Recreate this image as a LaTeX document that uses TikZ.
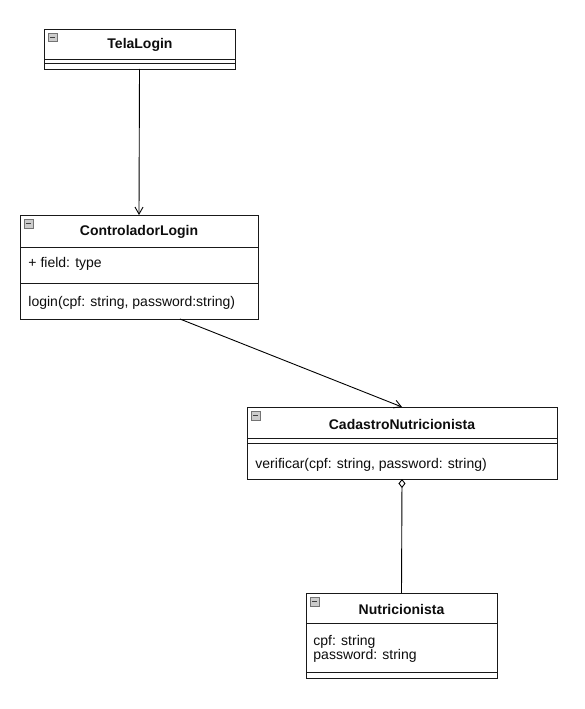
\documentclass[tikz,border=0pt]{standalone}
\usepackage{fontspec}
\setmainfont{Liberation Sans}
\usetikzlibrary{arrows.meta,calc}
\begin{document}
\begin{tikzpicture}[x=1pt,y=-1pt,
  line width=0.9pt,
  classbox/.style={draw=black!90, fill=white, rectangle, anchor=north west, inner sep=0pt, outer sep=0pt},
  sep/.style={draw=black!90, line width=0.9pt},
  title/.style={font=\fontsize{14}{16}\selectfont\bfseries, text=black!95, inner sep=0pt},
  member/.style={font=\fontsize{14}{16}\selectfont, text=black!95, anchor=west, inner sep=0pt, align=left},
  collapse/.style={draw=black!55, fill=black!20, line width=0.6pt, rectangle, minimum size=8.5pt, inner sep=0pt, anchor=north west},
  assoc/.style={draw=black, line width=0.9pt, -{Straight Barb[length=7pt,width=8pt]}},
  aggr/.style={draw=black, line width=0.9pt, {Diamond[open,length=9pt,width=7pt]}-}]
\useasboundingbox (0,0) rectangle (585,709);
\fill[white] (0,0) rectangle (585,709);

% TelaLogin
\node[classbox, minimum width=191pt, minimum height=40pt] (tela) at (44,29) {};
\draw[sep] (44,59) -- (235,59);
\draw[sep] (44,63.5) -- (235,63.5);
\node[collapse] (telaIcon) at (48,33) {};
\draw[line width=0.7pt, black!75] (49.8,37.25) -- (54.7,37.25);
\node[title] (telaTitle) at (140,45) {TelaLogin};

% ControladorLogin
\node[classbox, minimum width=238pt, minimum height=104pt] (ctrl) at (20,215) {};
\draw[sep] (20,247) -- (258,247);
\draw[sep] (20,283) -- (258,283);
\node[collapse] (ctrlIcon) at (24,219) {};
\draw[line width=0.7pt, black!75] (25.8,223.25) -- (30.7,223.25);
\node[title] (ctrlTitle) at (139,232) {ControladorLogin};
\node[member] (ctrlAttr) at (28,264) {+ field: type};
\node[member] (ctrlOp) at (28,303) {login(cpf: string, password:string)};

% CadastroNutricionista
\node[classbox, minimum width=310pt, minimum height=72pt] (cad) at (247,407) {};
\draw[sep] (247,438.5) -- (557,438.5);
\draw[sep] (247,443) -- (557,443);
\node[collapse] (cadIcon) at (251,411) {};
\draw[line width=0.7pt, black!75] (252.8,415.25) -- (257.7,415.25);
\node[title] (cadTitle) at (402,424) {CadastroNutricionista};
\node[member] (cadOp) at (255,465) {verificar(cpf: string, password: string)};

% Nutricionista
\node[classbox, minimum width=191pt, minimum height=85pt] (nutri) at (306,593) {};
\draw[sep] (306,623.5) -- (497,623.5);
\draw[sep] (306,672.5) -- (497,672.5);
\node[collapse] (nutriIcon) at (310,597) {};
\draw[line width=0.7pt, black!75] (311.8,601.25) -- (316.7,601.25);
\node[title] (nutriTitle) at (401.5,609) {Nutricionista};
\node[member] (nutriAttr) at (313,649) {\begin{tabular}{@{}l@{}}cpf: string\\[-2pt] password: string\end{tabular}};

% Connectors
\draw[assoc] (tela.south) -- (ctrl.north);
\draw[assoc] ($(ctrl.south west)!0.672!(ctrl.south east)$) -- (cad.north);
\draw[aggr] (cad.south) -- (nutri.north);
\end{tikzpicture}
\end{document}
